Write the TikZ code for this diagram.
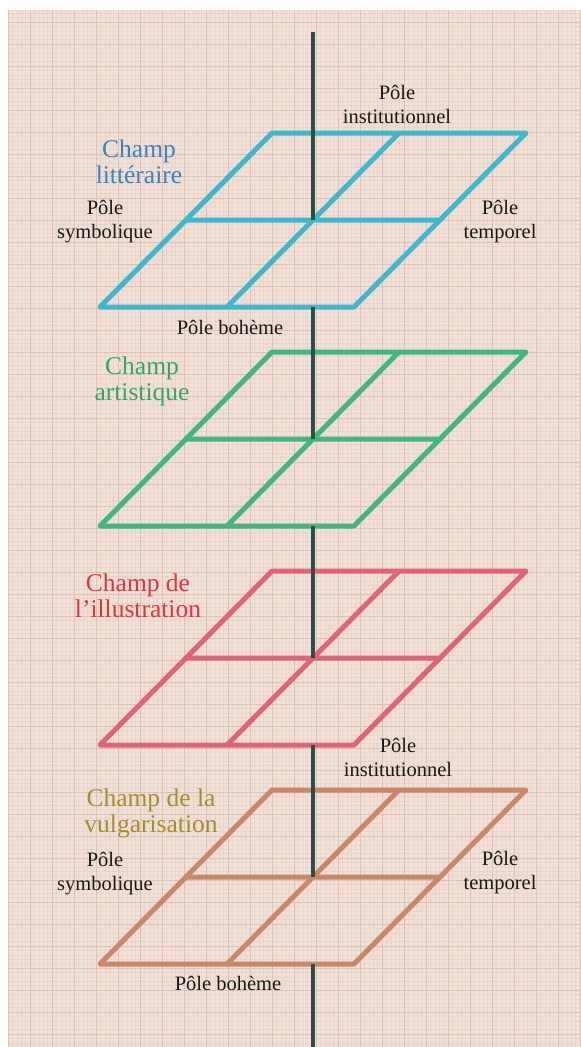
\documentclass[tikz,border=0pt]{standalone}
\usepackage{fontspec}
\setmainfont{Liberation Serif}
\usepackage{xcolor}
\usepackage{tikz}

\definecolor{papier}{RGB}{241,224,215}
\definecolor{grillefine}{RGB}{235,213,202}
\definecolor{grillegrosse}{RGB}{221,194,180}
\definecolor{axecouleur}{RGB}{45,78,70}
\definecolor{bleuplan}{RGB}{62,184,202}
\definecolor{bleutexte}{RGB}{58,132,192}
\definecolor{vertplan}{RGB}{62,184,126}
\definecolor{verttexte}{RGB}{52,166,100}
\definecolor{rougeplan}{RGB}{224,100,120}
\definecolor{rougetexte}{RGB}{226,52,62}
\definecolor{brunplan}{RGB}{200,136,106}
\definecolor{bruntexte}{RGB}{166,140,48}

\tikzset{
	plan/.style={line width=5pt, line join=round, line cap=round},
	axe/.style={draw=axecouleur, line width=4pt},
	pole/.style={font=\fontsize{20.5}{24}\selectfont, align=center, inner sep=0pt, text=black!90},
	champ/.style={font=\fontsize{25.5}{26}\selectfont, align=center, inner sep=0pt},
}

\begin{document}
\begin{tikzpicture}[x=1pt,y=-1pt]
			% papier millimetre
			\useasboundingbox (0,0) rectangle (581,1047);
			\fill[white] (0,0) rectangle (581,1047);
			\fill[papier] (8,10) rectangle (581,1047);
			\draw[grillefine, line width=0.3pt, step=4.4pt, xshift=8pt] (0,1047) grid (573,10);
			\draw[grillegrosse, line width=0.9pt, step=22pt, xshift=8pt] (0,1047) grid (573,10);

			% champ litteraire
			\draw[plan, bleuplan] (272,133) -- (526,133) -- (354,307) -- (100,307) -- cycle
				(399,133) -- (227,307) (186,220) -- (440,220);
			% champ artistique
			\draw[plan, vertplan] (272,352) -- (526,352) -- (354,526) -- (100,526) -- cycle
				(399,352) -- (227,526) (186,439) -- (440,439);
			% champ de l'illustration
			\draw[plan, rougeplan] (272,571) -- (526,571) -- (354,745) -- (100,745) -- cycle
				(399,571) -- (227,745) (186,658) -- (440,658);
			% champ de la vulgarisation
			\draw[plan, brunplan] (272,790) -- (526,790) -- (354,964) -- (100,964) -- cycle
				(399,790) -- (227,964) (186,877) -- (440,877);

			% axe
			\draw[axe] (313,32) -- (313,220);
			\draw[axe] (313,307) -- (313,439);
			\draw[axe] (313,526) -- (313,658);
			\draw[axe] (313,745) -- (313,877);
			\draw[axe] (313,964) -- (313,1047);

			\node[champ, text=bleutexte] (litteraire) at (139,162) {Champ\\litt\'eraire};
			\node[pole] (institutionnelA) at (397,104) {P\^ole\\institutionnel};
			\node[pole] (symboliqueA) at (105,222) {P\^ole\\symbolique};
			\node[pole] (temporelA) at (500,222) {P\^ole\\temporel};
			\node[pole] (bohemeA) at (230,327) {P\^ole boh\`eme};

			\node[champ, text=verttexte] (artistique) at (142,381) {Champ\\artistique};

			\node[champ, text=rougetexte] (illustration) at (138,596) {Champ de\\l'illustration};
			\node[pole] (institutionnelB) at (398,757) {P\^ole\\institutionnel};

			\node[champ, text=bruntexte] (vulgarisation) at (151,813) {Champ de la\\vulgarisation};
			\node[pole] (symboliqueB) at (105,874) {P\^ole\\symbolique};
			\node[pole] (temporelB) at (500,873) {P\^ole\\temporel};
			\node[pole] (bohemeB) at (228,983) {P\^ole boh\`eme};
		\end{tikzpicture}
\end{document}
